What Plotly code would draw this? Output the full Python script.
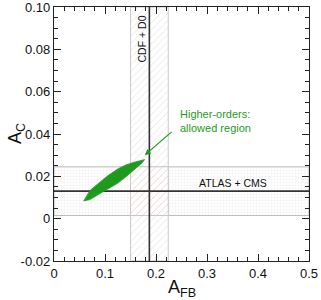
import plotly.graph_objects as go

# Measurements
afb_center = 0.187
afb_err = 0.037
ac_center = 0.013
ac_err = 0.0115

# Allowed region boundary
region_afb = [0.0584, 0.0702, 0.0859, 0.1055, 0.1252, 0.141, 0.158, 0.172, 0.1777,
              0.172, 0.158, 0.141, 0.1252, 0.1055, 0.0859, 0.0702, 0.0584]
region_ac = [0.0084, 0.0132, 0.0164, 0.0203, 0.0235, 0.0254, 0.0267, 0.0277, 0.0279,
             0.0262, 0.0231, 0.0198, 0.0168, 0.0139, 0.0113, 0.0090, 0.0084]

x_range = [0, 0.5]
y_range = [-0.02, 0.10]
x_ticks = [0, 0.1, 0.2, 0.3, 0.4, 0.5]
x_ticklabels = ["0", "0.1", "0.2", "0.3", "0.4", "0.5"]
y_ticks = [-0.02, 0, 0.02, 0.04, 0.06, 0.08, 0.10]
y_ticklabels = ["-0.02", "0", "0.02", "0.04", "0.06", "0.08", "0.10"]

green = "#1f9a1f"
font = "Liberation Sans, Arial, sans-serif"

fig = go.Figure()

x0, x1 = afb_center - afb_err, afb_center + afb_err
y0, y1 = ac_center - ac_err, ac_center + ac_err

# vertical band (CDF + D0)
fig.add_trace(go.Scatter(
    x=[x0, x1, x1, x0, x0], y=[y_range[0], y_range[0], y_range[1], y_range[1], y_range[0]],
    fill="toself", mode="lines", line=dict(color="#c8c8c8", width=1),
    fillcolor="rgba(0,0,0,0)",
    fillpattern=dict(shape="/", fgcolor="#c4c4c4", bgcolor="white", size=5, solidity=0.15),
    hoverinfo="skip", showlegend=False))
# horizontal band (ATLAS + CMS)
fig.add_trace(go.Scatter(
    x=[x_range[0], x_range[1], x_range[1], x_range[0], x_range[0]], y=[y0, y0, y1, y1, y0],
    fill="toself", mode="lines", line=dict(color="#bdbdbd", width=1),
    fillcolor="rgba(0,0,0,0)",
    fillpattern=dict(shape="+", fgcolor="#e2e2e2", bgcolor="rgba(0,0,0,0)", size=3, solidity=0.3),
    hoverinfo="skip", showlegend=False))
# intersection
fig.add_trace(go.Scatter(
    x=[x0, x1, x1, x0, x0], y=[y0, y0, y1, y1, y0],
    fill="toself", mode="lines", line=dict(color="#c8c8c8", width=1),
    fillcolor="rgba(0,0,0,0)",
    fillpattern=dict(shape="/", fgcolor="#d08c8c", bgcolor="white", size=5, solidity=0.15),
    hoverinfo="skip", showlegend=False))
# central lines
fig.add_trace(go.Scatter(x=[afb_center, afb_center], y=y_range, mode="lines",
                         line=dict(color="#333333", width=1.6), hoverinfo="skip", showlegend=False))
fig.add_trace(go.Scatter(x=x_range, y=[ac_center, ac_center], mode="lines",
                         line=dict(color="#333333", width=1.6), hoverinfo="skip", showlegend=False))
# allowed region
fig.add_trace(go.Scatter(x=region_afb, y=region_ac, fill="toself", mode="lines",
                         line=dict(color=green, width=0.8), fillcolor=green,
                         hoverinfo="skip", showlegend=False))

fig.add_annotation(x=0.172, y=0.085, text="CDF + D0", textangle=-90, showarrow=False,
                   font=dict(family=font, size=10.5, color="#111"))
fig.add_annotation(x=0.351, y=0.0169, text="ATLAS + CMS", showarrow=False,
                   font=dict(family=font, size=10.5, color="#111"))
fig.add_annotation(x=0.243, y=0.046, text="Higher-orders:<br>allowed region", showarrow=False,
                   xanchor="left", align="left", font=dict(family=font, size=11, color=green))
fig.add_annotation(x=0.178, y=0.030, ax=0.2337, ay=0.0416, axref="x", ayref="y",
                   text="", showarrow=True, arrowhead=2, arrowsize=1, arrowwidth=1.2,
                   arrowcolor=green)

# axis titles
fig.add_annotation(xref="paper", yref="paper", x=0.5, y=0, yshift=-27, yanchor="middle",
                   text="A<sub>FB</sub>", showarrow=False,
                   font=dict(family=font, size=18, color="#111"))
fig.add_annotation(xref="paper", yref="paper", x=0, y=0.5, xshift=-38, xanchor="center",
                   text="A<sub>C</sub>", textangle=-90, showarrow=False,
                   font=dict(family=font, size=18, color="#111"))

axis_common = dict(showgrid=False, zeroline=False, showline=True, linecolor="#222",
                   linewidth=1.3, mirror="ticks", ticks="inside", ticklen=7, tickwidth=1,
                   tickcolor="#222", automargin=False, ticklabeloverflow="allow",
                   tickfont=dict(family=font, size=13, color="#111"))
fig.update_xaxes(range=x_range, tickvals=x_ticks, ticktext=x_ticklabels,
                 minor=dict(dtick=0.02, ticks="inside", ticklen=4, tickcolor="#222"),
                 **axis_common)
fig.update_yaxes(range=y_range, tickvals=y_ticks, ticktext=y_ticklabels,
                 minor=dict(dtick=0.005, ticks="inside", ticklen=4, tickcolor="#222"),
                 **axis_common)

fig.update_layout(width=321, height=300, margin=dict(l=54, r=12, t=7, b=39),
                  plot_bgcolor="white", paper_bgcolor="white")

fig.write_html("out.html", config={"displayModeBar": False},
               post_script="document.body.style.margin='0';")
